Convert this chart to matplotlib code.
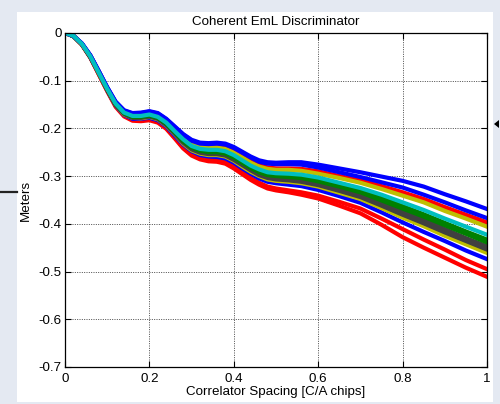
#!/usr/bin/env python3
"""Coherent EmL discriminator: tracking bias vs correlator spacing, one curve per case."""
import matplotlib
matplotlib.use("Agg")
import matplotlib.pyplot as plt
from matplotlib.lines import Line2D
from matplotlib.patches import Polygon, Rectangle

# ── data (metres, per correlator spacing) ────────────────────────────────────
SPACING = [0.0, 0.02, 0.04, 0.06, 0.08, 0.10, 0.12, 0.14, 0.16, 0.18, 0.20,
           0.22, 0.24, 0.26, 0.28, 0.30, 0.32, 0.34, 0.36, 0.38, 0.40,
           0.42, 0.44, 0.46, 0.48, 0.50, 0.53, 0.56, 0.60, 0.65, 0.70,
           0.75, 0.80, 0.85, 0.90, 0.95, 1.00]

BLUE_1 = [0.000, -0.006, -0.022, -0.047, -0.080, -0.114, -0.144, -0.162, -0.168, -0.167, -0.164,
          -0.168, -0.180, -0.196, -0.212, -0.224, -0.230, -0.231, -0.230, -0.232, -0.239,
          -0.249, -0.259, -0.267, -0.271, -0.272, -0.271, -0.271, -0.276, -0.284, -0.292,
          -0.301, -0.310, -0.322, -0.338, -0.353, -0.369]
BLUE_2 = [0.000, -0.006, -0.022, -0.047, -0.080, -0.114, -0.145, -0.163, -0.169, -0.168, -0.165,
          -0.169, -0.181, -0.197, -0.213, -0.226, -0.232, -0.233, -0.232, -0.234, -0.241,
          -0.251, -0.261, -0.270, -0.274, -0.275, -0.275, -0.276, -0.282, -0.292, -0.302,
          -0.313, -0.324, -0.339, -0.355, -0.372, -0.388]
RED_THIN = [0.000, -0.006, -0.023, -0.048, -0.081, -0.116, -0.146, -0.165, -0.171, -0.171, -0.168,
            -0.172, -0.184, -0.201, -0.218, -0.231, -0.237, -0.239, -0.238, -0.240, -0.248,
            -0.258, -0.269, -0.277, -0.282, -0.284, -0.284, -0.285, -0.290, -0.300, -0.309,
            -0.321, -0.334, -0.348, -0.365, -0.381, -0.397]
MAGENTA = [0.000, -0.006, -0.023, -0.048, -0.082, -0.116, -0.147, -0.165, -0.172, -0.171, -0.168,
           -0.173, -0.185, -0.202, -0.219, -0.232, -0.238, -0.240, -0.239, -0.242, -0.249,
           -0.260, -0.270, -0.279, -0.284, -0.285, -0.286, -0.287, -0.292, -0.302, -0.312,
           -0.324, -0.337, -0.351, -0.369, -0.385, -0.402]
YELLOW_1 = [0.000, -0.006, -0.023, -0.048, -0.082, -0.116, -0.147, -0.165, -0.172, -0.172, -0.169,
            -0.173, -0.186, -0.203, -0.220, -0.233, -0.239, -0.241, -0.240, -0.243, -0.251,
            -0.261, -0.272, -0.280, -0.285, -0.287, -0.287, -0.289, -0.295, -0.304, -0.314,
            -0.327, -0.341, -0.355, -0.373, -0.389, -0.406]
CYAN = [0.000, -0.006, -0.023, -0.049, -0.083, -0.117, -0.148, -0.167, -0.174, -0.174, -0.171,
        -0.176, -0.188, -0.206, -0.223, -0.237, -0.243, -0.245, -0.245, -0.248, -0.256,
        -0.267, -0.278, -0.286, -0.292, -0.294, -0.295, -0.297, -0.303, -0.314, -0.325,
        -0.339, -0.355, -0.371, -0.389, -0.406, -0.423]
GREEN_1 = [0.000, -0.006, -0.023, -0.049, -0.083, -0.118, -0.149, -0.168, -0.175, -0.175, -0.173,
           -0.177, -0.190, -0.207, -0.226, -0.239, -0.246, -0.248, -0.248, -0.251, -0.259,
           -0.270, -0.281, -0.290, -0.296, -0.298, -0.299, -0.302, -0.308, -0.319, -0.331,
           -0.346, -0.363, -0.380, -0.398, -0.416, -0.433]
GREEN_2 = [0.000, -0.007, -0.024, -0.050, -0.083, -0.118, -0.149, -0.168, -0.176, -0.176, -0.173,
           -0.178, -0.190, -0.208, -0.227, -0.240, -0.247, -0.250, -0.250, -0.253, -0.261,
           -0.272, -0.283, -0.292, -0.298, -0.300, -0.302, -0.304, -0.311, -0.322, -0.334,
           -0.351, -0.368, -0.385, -0.403, -0.421, -0.439]
GRAY_1 = [0.000, -0.007, -0.024, -0.050, -0.084, -0.118, -0.150, -0.169, -0.177, -0.177, -0.175,
          -0.179, -0.192, -0.210, -0.229, -0.242, -0.249, -0.252, -0.252, -0.255, -0.264,
          -0.275, -0.286, -0.295, -0.301, -0.304, -0.306, -0.308, -0.315, -0.327, -0.339,
          -0.357, -0.375, -0.392, -0.411, -0.430, -0.447]
GRAY_2 = [0.000, -0.007, -0.024, -0.050, -0.084, -0.119, -0.151, -0.170, -0.178, -0.178, -0.175,
          -0.180, -0.193, -0.211, -0.230, -0.244, -0.251, -0.254, -0.254, -0.257, -0.266,
          -0.277, -0.288, -0.298, -0.304, -0.307, -0.309, -0.312, -0.319, -0.331, -0.344,
          -0.362, -0.381, -0.399, -0.418, -0.436, -0.454]
YELLOW_2 = [0.000, -0.007, -0.024, -0.050, -0.085, -0.119, -0.151, -0.171, -0.178, -0.179, -0.176,
            -0.181, -0.194, -0.212, -0.232, -0.246, -0.253, -0.256, -0.256, -0.259, -0.268,
            -0.280, -0.291, -0.300, -0.307, -0.310, -0.312, -0.315, -0.322, -0.335, -0.348,
            -0.367, -0.387, -0.405, -0.425, -0.443, -0.461]
BLUE_3 = [0.000, -0.007, -0.024, -0.051, -0.085, -0.120, -0.152, -0.172, -0.180, -0.180, -0.178,
          -0.183, -0.196, -0.215, -0.234, -0.248, -0.256, -0.259, -0.260, -0.263, -0.272,
          -0.284, -0.295, -0.305, -0.312, -0.315, -0.318, -0.321, -0.329, -0.342, -0.356,
          -0.376, -0.397, -0.417, -0.436, -0.456, -0.474]
RED_1 = [0.000, -0.006, -0.024, -0.051, -0.086, -0.121, -0.153, -0.173, -0.182, -0.183, -0.181,
         -0.186, -0.199, -0.219, -0.240, -0.255, -0.261, -0.265, -0.266, -0.270, -0.280,
         -0.292, -0.304, -0.314, -0.322, -0.326, -0.330, -0.334, -0.341, -0.354, -0.368,
         -0.389, -0.411, -0.433, -0.454, -0.476, -0.495]
RED_2 = [0.000, -0.007, -0.025, -0.052, -0.087, -0.122, -0.155, -0.175, -0.184, -0.185, -0.183,
         -0.188, -0.201, -0.221, -0.242, -0.257, -0.265, -0.269, -0.270, -0.274, -0.284,
         -0.296, -0.308, -0.318, -0.326, -0.330, -0.334, -0.339, -0.347, -0.362, -0.378,
         -0.402, -0.428, -0.450, -0.471, -0.492, -0.511]

X_TICKS = [0, 0.2, 0.4, 0.6, 0.8, 1]
X_TICK_LABELS = ["0", "0.2", "0.4", "0.6", "0.8", "1"]
Y_TICKS = [0, -0.1, -0.2, -0.3, -0.4, -0.5, -0.6, -0.7]
Y_TICK_LABELS = ["0", "-0.1", "-0.2", "-0.3", "-0.4", "-0.5", "-0.6", "-0.7"]

# MATLAB-ish colour order
C_B, C_G, C_R = "#0000ff", "#008000", "#ff0000"
C_C, C_M, C_Y, C_K = "#00bfbf", "#bf00bf", "#bfbf00", "#404040"


def main():
    plt.rcParams["font.family"] = ["Liberation Sans", "DejaVu Sans"]
    plt.rcParams["font.size"] = 9.6

    fig = plt.figure(figsize=(5.0, 4.04), dpi=100, facecolor="#e4e9f2")
    # white figure panel + screenshot leftovers at the edges
    fig.patches.append(Rectangle((17 / 500, 2 / 404), 476 / 500, 390 / 404,
                                 transform=fig.transFigure, facecolor="white",
                                 edgecolor="none", zorder=-10))
    fig.add_artist(Line2D([0, 17 / 500], [212 / 404, 212 / 404], transform=fig.transFigure,
                          color="#222222", lw=1.6))
    fig.add_artist(Polygon([(494 / 500, 280 / 404), (499 / 500, 284 / 404), (499 / 500, 276 / 404)],
                           closed=True, transform=fig.transFigure, facecolor="black",
                           edgecolor="none"))

    ax = fig.add_axes([0.13, 0.0916, 0.844, 0.827], zorder=1)
    ax.set_facecolor("white")

    # draw order: later lines sit on top (cyan last, like the reference)
    series = [
        (RED_2, C_R), (RED_1, C_R), (BLUE_3, C_B), (YELLOW_2, C_Y), (GRAY_2, C_K),
        (GRAY_1, C_K), (GREEN_2, C_G), (GREEN_1, C_G), (MAGENTA, C_M), (RED_THIN, C_R),
        (YELLOW_1, C_Y), (BLUE_2, C_B), (BLUE_1, C_B), (CYAN, C_C),
    ]
    for ys, col in series:
        ax.plot(SPACING, ys, color=col, lw=3.0, solid_joinstyle="round")

    ax.set_xlim(0, 1)
    ax.set_ylim(-0.7, 0)
    ax.set_xticks(X_TICKS, X_TICK_LABELS)
    ax.set_yticks(Y_TICKS, Y_TICK_LABELS)
    ax.tick_params(direction="in", length=4, width=0.8, top=True, right=True,
                   colors="black", labelsize=9.6)
    ax.tick_params(axis="x", pad=4)
    ax.tick_params(axis="y", pad=2.5)
    ax.grid(True, color="#303030", lw=0.6, ls=(0, (1.2, 1.6)))
    ax.set_axisbelow(True)
    for sp in ax.spines.values():
        sp.set_color("black")
        sp.set_linewidth(0.9)

    ax.set_title("Coherent EmL Discriminator", fontsize=9.6, pad=6)
    ax.set_xlabel("Correlator Spacing [C/A chips]", labelpad=1)
    ax.set_ylabel("Meters", labelpad=5)

    fig.savefig("out.png", dpi=100, facecolor=fig.get_facecolor())


if __name__ == "__main__":
    main()
